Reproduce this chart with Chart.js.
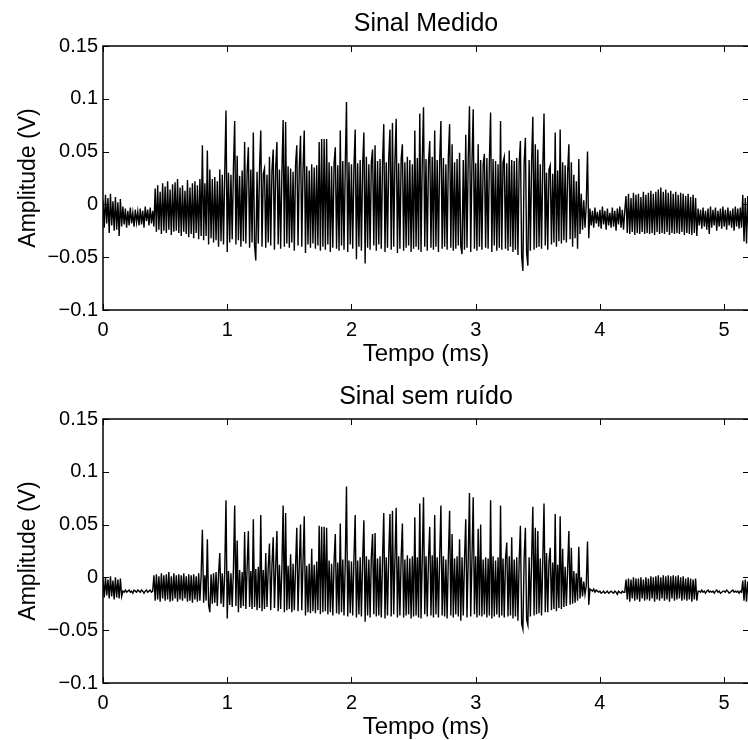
<!DOCTYPE html>
<html>
<head>
<meta charset="utf-8">
<script src="https://cdn.jsdelivr.net/npm/chart.js@4"></script>
<style>
  html, body { margin: 0; padding: 0; background: #fff; width: 748px; height: 740px; overflow: hidden; }
  canvas { position: absolute; left: 0; }
  #grafico1 { top: 0px; }
  #grafico2 { top: 373px; }
</style>
</head>
<body>
<canvas id="grafico1" width="750" height="370"></canvas>
<canvas id="grafico2" width="750" height="370"></canvas>
<script>
// amostragem dos sinais (ms)
const TEMPO_PASSO = 0.01;

const xTicks = [0, 1, 2, 3, 4, 5];
const yTicks = [-0.1, -0.05, 0, 0.05, 0.1, 0.15];
const yTickLabels = ["\u22120.1", "\u22120.05", "0", "0.05", "0.1", "0.15"];

// Sinal Medido (V), uma linha = 0.1 ms
const sinalMedido = [
  0.004, -0.022, 0.009, -0.018, 0.006, -0.027, 0.010, -0.020, 0.003, -0.025,
  0.007, -0.024, 0.002, -0.030, 0.005, -0.021, -0.002, -0.019, -0.004, -0.022,
  -0.006, -0.020, -0.003, -0.018, -0.008, -0.021, -0.005, -0.017, -0.007, -0.020,
  -0.004, -0.019, -0.006, -0.022, -0.002, -0.016, -0.005, -0.020, -0.003, -0.018,
  -0.006, -0.021, 0.015, -0.026, 0.018, -0.024, 0.012, -0.028, 0.020, -0.025,
  0.017, -0.027, 0.022, -0.024, 0.014, -0.029, 0.019, -0.026, 0.021, -0.025,
  0.024, -0.027, 0.016, -0.030, 0.018, -0.026, 0.013, -0.028, 0.023, -0.031,
  0.016, -0.028, 0.020, -0.032, 0.022, -0.027, 0.018, -0.033, 0.024, -0.030,
  0.056, -0.034, 0.020, -0.030, 0.051, -0.038, 0.033, -0.032, 0.024, -0.036,
  0.026, -0.034, 0.022, -0.040, 0.033, -0.035, 0.028, -0.038, 0.030, 0.089,
  -0.045, 0.030, -0.036, 0.028, -0.033, 0.035, 0.079, -0.038, 0.046, -0.034,
  0.027, -0.040, 0.032, -0.035, 0.059, -0.037, 0.030, 0.054, -0.041, 0.033,
  -0.036, 0.068, -0.039, -0.053, 0.031, -0.037, 0.034, 0.070, -0.040, 0.029,
  0.034, -0.041, 0.028, -0.036, 0.045, -0.039, 0.032, 0.052, -0.043, 0.035,
  0.059, -0.038, 0.033, -0.042, 0.030, 0.080, -0.040, 0.078, -0.037, 0.036,
  -0.041, 0.034, -0.036, 0.031, -0.044, 0.038, 0.056, -0.039, 0.035, 0.065,
  -0.040, 0.033, 0.070, -0.046, 0.036, -0.038, 0.032, -0.041, 0.038, -0.037,
  0.035, -0.042, 0.037, -0.039, 0.059, -0.044, 0.062, -0.040, 0.062, -0.043,
  0.062, -0.038, 0.040, -0.045, 0.036, -0.041, 0.039, 0.054, -0.042, 0.037,
  -0.044, 0.070, -0.039, 0.041, -0.043, 0.036, 0.097, -0.045, 0.040, -0.038,
  0.038, -0.042, 0.035, 0.071, -0.052, 0.039, -0.040, 0.042, -0.044, 0.037,
  0.068, -0.056, 0.045, -0.041, 0.038, -0.043, 0.040, 0.052, -0.039, 0.056,
  -0.044, 0.041, -0.038, 0.043, -0.042, 0.039, 0.076, -0.045, 0.040, -0.041,
  0.044, 0.071, -0.043, 0.077, -0.040, 0.042, 0.081, -0.046, 0.039, -0.042,
  0.043, 0.057, -0.044, 0.040, -0.041, 0.045, -0.039, 0.042, -0.045, 0.038,
  -0.042, 0.070, -0.040, 0.044, -0.043, 0.086, -0.045, 0.041, 0.092, -0.040,
  0.043, -0.044, 0.039, 0.060, -0.041, 0.045, -0.043, 0.070, -0.040, 0.042,
  -0.045, 0.041, 0.079, -0.042, 0.044, -0.040, 0.038, -0.043, 0.045, 0.076,
  -0.041, 0.057, -0.044, 0.040, -0.042, 0.043, -0.039, 0.049, -0.040, -0.047,
  0.042, -0.043, 0.066, -0.041, 0.044, 0.093, -0.045, 0.040, 0.090, -0.042,
  0.039, -0.044, 0.057, -0.040, 0.042, -0.043, 0.038, 0.048, -0.041, 0.044,
  -0.042, 0.040, 0.087, -0.045, 0.043, -0.039, 0.041, -0.044, 0.038, -0.041,
  0.079, -0.043, 0.040, 0.045, -0.042, 0.039, -0.044, 0.051, -0.040, 0.042,
  -0.045, 0.041, -0.043, 0.044, -0.048, 0.039, 0.060, -0.050, -0.063, 0.040,
  0.063, -0.046, -0.058, 0.042, -0.044, 0.040, 0.083, -0.043, 0.057, -0.041,
  0.052, -0.040, 0.038, -0.042, 0.035, 0.086, -0.039, 0.030, -0.043, 0.033,
  0.037, -0.038, 0.029, -0.036, 0.068, -0.040, 0.032, -0.035, 0.071, -0.037,
  0.040, -0.034, 0.037, -0.036, 0.030, 0.057, -0.033, 0.040, -0.040, 0.028,
  -0.032, 0.022, -0.042, 0.043, -0.028, 0.010, -0.024, 0.004, -0.022, 0.000,
  0.050, -0.032, -0.004, -0.020, -0.006, -0.022, -0.003, -0.018, -0.007, -0.021,
  -0.005, -0.023, -0.002, -0.019, -0.006, -0.024, -0.004, -0.020, -0.008, -0.022,
  -0.003, -0.021, -0.006, -0.025, -0.004, -0.019, -0.002, -0.022, -0.005, -0.024,
  -0.006, 0.008, -0.027, 0.010, -0.028, 0.006, -0.026, 0.011, -0.029, 0.009,
  -0.027, 0.010, -0.028, 0.007, -0.026, 0.012, -0.028, 0.009, -0.027, 0.011,
  -0.028, 0.013, -0.027, 0.010, -0.029, 0.012, -0.026, 0.014, -0.028, 0.016,
  -0.027, 0.012, -0.028, 0.014, -0.026, 0.011, -0.029, 0.013, -0.027, 0.010,
  -0.028, 0.012, -0.027, 0.009, -0.028, 0.011, -0.026, 0.010, -0.029, 0.008,
  -0.027, 0.010, -0.028, 0.007, -0.029, 0.009, -0.027, 0.006, -0.030, -0.004,
  -0.020, -0.005, -0.023, -0.003, -0.021, -0.006, -0.024, -0.004, -0.028, -0.002,
  -0.022, -0.005, -0.020, -0.003, -0.025, -0.006, -0.021, -0.004, -0.023, -0.002,
  -0.021, -0.005, -0.024, -0.003, -0.020, -0.006, -0.022, -0.004, -0.025, -0.002,
  -0.021, -0.004, -0.023, -0.003, -0.022, 0.009, -0.035, 0.006, -0.037, 0.008,
  -0.033
];

// Sinal sem ruído (V), uma linha = 0.1 ms
const sinalLimpo = [
  -0.001, -0.019, 0.000, -0.017, -0.002, -0.020, 0.001, -0.018, -0.003, -0.021,
  0.000, -0.019, -0.002, -0.020, -0.001, -0.018, -0.013, -0.014, -0.012, -0.014,
  -0.013, -0.012, -0.014, -0.013, -0.015, -0.012, -0.013, -0.014, -0.012, -0.013,
  -0.014, -0.012, -0.013, -0.015, -0.013, -0.012, -0.014, -0.013, -0.012, -0.014,
  -0.013, 0.002, -0.022, 0.003, -0.021, 0.001, -0.023, 0.004, -0.020, 0.002,
  -0.022, 0.003, -0.021, 0.005, -0.023, 0.001, -0.022, 0.004, -0.020, 0.002,
  -0.023, 0.003, -0.021, 0.002, -0.022, 0.004, -0.020, 0.001, -0.023, 0.003,
  -0.022, 0.002, -0.024, 0.003, -0.021, 0.001, -0.023, 0.004, -0.022, 0.002,
  0.045, -0.024, 0.002, -0.022, 0.036, -0.026, -0.033, 0.003, -0.025, 0.004,
  -0.024, 0.005, -0.027, 0.003, 0.023, -0.025, 0.004, -0.028, 0.006, 0.073,
  -0.039, 0.006, -0.026, 0.004, -0.028, 0.008, 0.068, -0.027, 0.035, -0.033,
  0.007, -0.029, 0.005, -0.027, 0.043, -0.030, 0.009, 0.044, -0.028, 0.006,
  -0.030, 0.055, -0.028, 0.008, -0.031, 0.010, -0.029, 0.059, -0.032, 0.007,
  -0.030, 0.023, -0.028, 0.009, 0.032, -0.031, 0.011, 0.038, -0.029, 0.010,
  0.044, -0.032, 0.012, -0.030, 0.009, 0.068, -0.033, 0.061, -0.031, 0.011,
  -0.030, 0.022, -0.033, 0.013, -0.031, 0.010, 0.047, -0.032, 0.012, 0.050,
  -0.031, 0.014, 0.058, -0.036, 0.011, -0.033, 0.013, -0.034, 0.027, -0.032,
  0.012, -0.034, 0.015, -0.031, 0.049, -0.035, 0.048, -0.033, 0.048, -0.032,
  0.047, -0.035, 0.016, -0.033, 0.013, -0.036, 0.015, 0.041, -0.034, 0.014,
  -0.035, 0.051, -0.033, 0.017, -0.036, 0.014, 0.086, -0.037, 0.016, -0.034,
  0.015, -0.036, 0.018, 0.059, -0.038, 0.016, -0.035, 0.019, -0.037, 0.017,
  0.054, -0.042, 0.020, -0.036, 0.017, -0.038, 0.019, 0.041, -0.035, 0.042,
  -0.037, 0.018, -0.036, 0.020, -0.038, 0.017, 0.061, -0.039, 0.019, -0.036,
  0.021, 0.060, -0.037, 0.063, -0.035, 0.018, 0.066, -0.038, 0.020, -0.036,
  0.019, 0.051, -0.038, 0.017, -0.036, 0.021, -0.035, 0.018, -0.039, 0.020,
  -0.037, 0.057, -0.036, 0.019, -0.038, 0.070, -0.039, 0.018, 0.076, -0.035,
  0.020, -0.037, 0.017, 0.048, -0.036, 0.021, -0.038, 0.059, -0.035, 0.019,
  -0.038, 0.018, 0.068, -0.036, 0.020, -0.037, 0.017, -0.039, 0.019, 0.063,
  -0.036, 0.041, -0.038, 0.018, -0.035, 0.020, -0.037, 0.036, -0.041, 0.019,
  -0.036, 0.017, 0.055, -0.038, 0.019, 0.080, -0.037, 0.018, 0.076, -0.035,
  0.020, -0.038, 0.046, -0.036, 0.050, -0.037, 0.017, -0.035, 0.019, -0.038,
  0.018, -0.036, 0.073, -0.039, 0.020, -0.037, 0.016, -0.035, 0.019, -0.038,
  0.068, -0.036, 0.018, -0.038, 0.017, 0.033, -0.037, 0.020, -0.036, 0.038,
  -0.039, 0.017, -0.037, 0.019, -0.041, 0.016, 0.049, -0.044, -0.049, 0.018,
  0.047, -0.040, -0.045, 0.019, -0.037, 0.017, 0.067, -0.036, 0.047, -0.035,
  0.044, -0.034, 0.018, -0.036, 0.016, 0.070, -0.033, 0.023, -0.033, 0.015,
  0.028, -0.031, 0.014, -0.030, 0.060, -0.032, 0.012, -0.029, 0.058, -0.030,
  0.027, -0.028, 0.010, -0.027, 0.008, 0.044, -0.026, 0.028, -0.025, 0.006,
  -0.024, 0.004, -0.022, 0.029, -0.020, 0.000, -0.018, -0.004, -0.016, -0.008,
  0.034, -0.026, -0.011, -0.012, -0.013, -0.011, -0.014, -0.012, -0.013, -0.014,
  -0.013, -0.015, -0.014, -0.013, -0.015, -0.014, -0.013, -0.015, -0.014, -0.013,
  -0.014, -0.015, -0.013, -0.014, -0.016, -0.013, -0.014, -0.015, -0.013, -0.014,
  -0.014, -0.002, -0.021, -0.001, -0.023, -0.002, -0.020, 0.000, -0.022, -0.001,
  -0.021, -0.001, -0.023, 0.000, -0.020, -0.002, -0.022, 0.000, -0.021, -0.001,
  -0.022, 0.001, -0.020, 0.000, -0.023, 0.001, -0.021, 0.002, -0.022, 0.000,
  -0.020, 0.002, -0.022, 0.001, -0.021, 0.002, -0.023, 0.001, -0.020, 0.002,
  -0.022, 0.001, -0.021, 0.002, -0.020, 0.000, -0.022, 0.001, -0.021, -0.001,
  -0.022, 0.000, -0.021, -0.001, -0.023, -0.002, -0.021, -0.001, -0.022, -0.013,
  -0.013, -0.014, -0.012, -0.014, -0.013, -0.015, -0.013, -0.012, -0.014, -0.013,
  -0.014, -0.013, -0.015, -0.013, -0.012, -0.014, -0.013, -0.015, -0.014, -0.013,
  -0.013, -0.014, -0.012, -0.013, -0.015, -0.014, -0.013, -0.012, -0.014, -0.013,
  -0.014, -0.013, -0.015, -0.013, -0.014, -0.003, -0.022, -0.002, -0.023, -0.004,
  -0.021
];

const FONTE = "'Liberation Sans', Arial, Helvetica, sans-serif";

Chart.defaults.color = "#000";
Chart.defaults.font.family = FONTE;

// caixa do eixo com marcas para dentro (estilo matlab)
const molduraPlugin = {
  id: "moldura",
  afterDraw(chart) {
    let ctx = chart.ctx;
    let a = chart.chartArea;
    let sx = chart.scales.x;
    let sy = chart.scales.y;
    ctx.save();
    ctx.strokeStyle = "#000";
    ctx.lineWidth = 1;
    ctx.beginPath();
    xTicks.forEach((v) => {
      let px = Math.round(sx.getPixelForValue(v)) + 0.5;
      ctx.moveTo(px, a.bottom);
      ctx.lineTo(px, a.bottom - 6);
      ctx.moveTo(px, a.top);
      ctx.lineTo(px, a.top + 6);
    });
    yTicks.forEach((v) => {
      let py = Math.round(sy.getPixelForValue(v)) + 0.5;
      ctx.moveTo(a.left, py);
      ctx.lineTo(a.left + 6, py);
      ctx.moveTo(a.right, py);
      ctx.lineTo(a.right - 6, py);
    });
    ctx.stroke();
    ctx.lineWidth = 1.5;
    ctx.strokeRect(a.left, a.top, a.right - a.left, a.bottom - a.top);
    ctx.restore();
  },
};

function montaPontos(valores) {
  return valores.map((v, i) => ({ x: i * TEMPO_PASSO, y: v }));
} //montaPontos

function criaGrafico(id, titulo, valores) {
  let ctx = document.getElementById(id).getContext("2d");
  return new Chart(ctx, {
    type: "line",
    data: {
      datasets: [
        {
          data: montaPontos(valores),
          borderColor: "#000",
          borderWidth: 1.4,
          pointRadius: 0,
          tension: 0,
          fill: false,
        },
      ],
    },
    options: {
      responsive: false,
      animation: false,
      events: [],
      layout: { padding: { left: 0, right: 1, top: 0, bottom: 0 } },
      plugins: {
        legend: { display: false },
        tooltip: { enabled: false },
        title: {
          display: true,
          text: titulo,
          fullSize: false,
          color: "#000",
          font: { size: 25, weight: "normal", family: FONTE },
          padding: { top: 9, bottom: 7 },
        },
      },
      scales: {
        x: {
          type: "linear",
          min: 0,
          max: 5.2,
          grid: { display: false, drawTicks: false },
          border: { display: false },
          afterBuildTicks: (axis) => {
            axis.ticks = xTicks.map((v) => ({ value: v }));
          },
          afterFit: (axis) => {
            axis.height = 60;
          },
          ticks: {
            padding: 8,
            maxRotation: 0,
            font: { size: 20 },
            callback: (v) => String(v),
          },
          title: {
            display: true,
            text: "Tempo (ms)",
            font: { size: 24 },
            padding: { top: 0, bottom: 1 },
          },
        },
        y: {
          min: -0.1,
          max: 0.15,
          grid: { display: false, drawTicks: false },
          border: { display: false },
          afterBuildTicks: (axis) => {
            axis.ticks = yTicks.map((v) => ({ value: v }));
          },
          afterFit: (axis) => {
            axis.width = 103;
          },
          ticks: {
            padding: 5,
            font: { size: 20 },
            callback: (v) => {
              let i = yTicks.findIndex((t) => Math.abs(t - v) < 1e-9);
              return i >= 0 ? yTickLabels[i] : "";
            },
          },
          title: {
            display: true,
            text: "Amplitude (V)",
            font: { size: 23 },
            padding: { top: 15, bottom: 0 },
          },
        },
      },
    },
    plugins: [molduraPlugin],
  });
} //criaGrafico

window.onload = function () {
  criaGrafico("grafico1", "Sinal Medido", sinalMedido);
  criaGrafico("grafico2", "Sinal sem ruído", sinalLimpo);
}; //onload
</script>
</body>
</html>
